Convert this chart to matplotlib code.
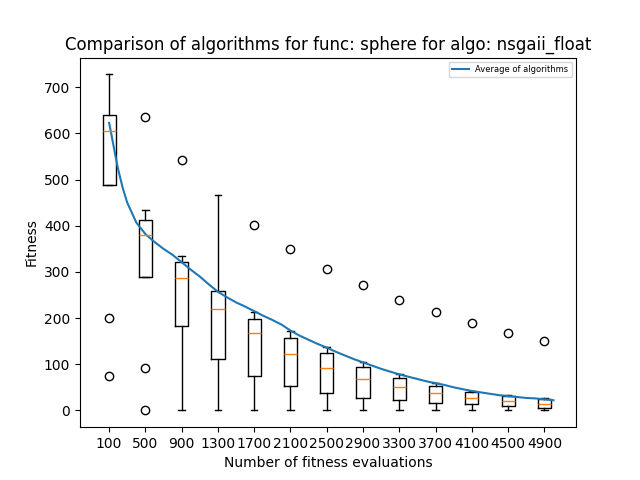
import matplotlib
matplotlib.use("Agg")
import matplotlib.pyplot as plt

positions = [100, 500, 900, 1300, 1700, 2100, 2500, 2900, 3300, 3700, 4100, 4500, 4900]
tick_labels = [str(p) for p in positions]

whislo = [489, 289, 0, 0, 0, 0, 0, 0, 0, 0, 0, 0, 0]
q1 = [489, 289, 183, 111, 75, 52, 37, 27, 22, 17, 14, 9, 6]
med = [606, 380, 287, 220, 167, 122, 91, 67, 50, 37, 26, 20, 14]
q3 = [641, 412, 322, 259, 198, 157, 124, 94, 70, 52, 39, 31, 24]
whishi = [728, 435, 335, 467, 213, 171, 138, 104, 78, 59, 42, 33, 27]
fliers = [[200, 75], [635, 92, 0], [543], [], [402], [350], [307], [272],
          [239], [214], [189], [167], [150]]

line_evals = [100, 125, 150, 175, 200, 250, 300, 400, 500, 600, 700, 800, 900, 1000,
              1100, 1200, 1300, 1400, 1500, 1600, 1700, 1800, 1900, 2000,
              2100, 2200, 2300, 2400, 2500, 2600, 2700, 2800, 2900, 3000,
              3100, 3200, 3300, 3400, 3500, 3600, 3700, 3800, 3900, 4000,
              4100, 4200, 4300, 4400, 4500, 4600, 4700, 4800, 4900, 5000]
line_values = [623, 598, 572, 546, 522, 482, 450, 407, 382, 365, 350, 337, 321, 305,
               290, 273, 257, 245, 234, 225, 215, 205, 196, 186,
               173, 162, 153, 144, 136, 127, 119, 111, 104, 97,
               90, 84, 78, 73, 68, 63, 59, 55, 50, 46,
               42, 39, 36, 33, 31, 29, 27, 26, 24, 22]

stats = []
for i in range(len(positions)):
    stats.append(dict(whislo=whislo[i], q1=q1[i], med=med[i], q3=q3[i],
                      whishi=whishi[i], fliers=fliers[i]))

fig, ax = plt.subplots(figsize=(6.4, 4.8), dpi=100)
ax.bxp(stats, positions=positions, widths=145)
ax.plot(line_evals, line_values, color="#1f77b4", label="Average of algorithms")
ax.set_xticks(positions)
ax.set_xticklabels(tick_labels)
ax.set_title("Comparison of algorithms for func: sphere for algo: nsgaii_float")
ax.set_xlabel("Number of fitness evaluations")
ax.set_ylabel("Fitness")
ax.legend(loc="upper right", fontsize=6)
fig.savefig("out.png", dpi=100)
